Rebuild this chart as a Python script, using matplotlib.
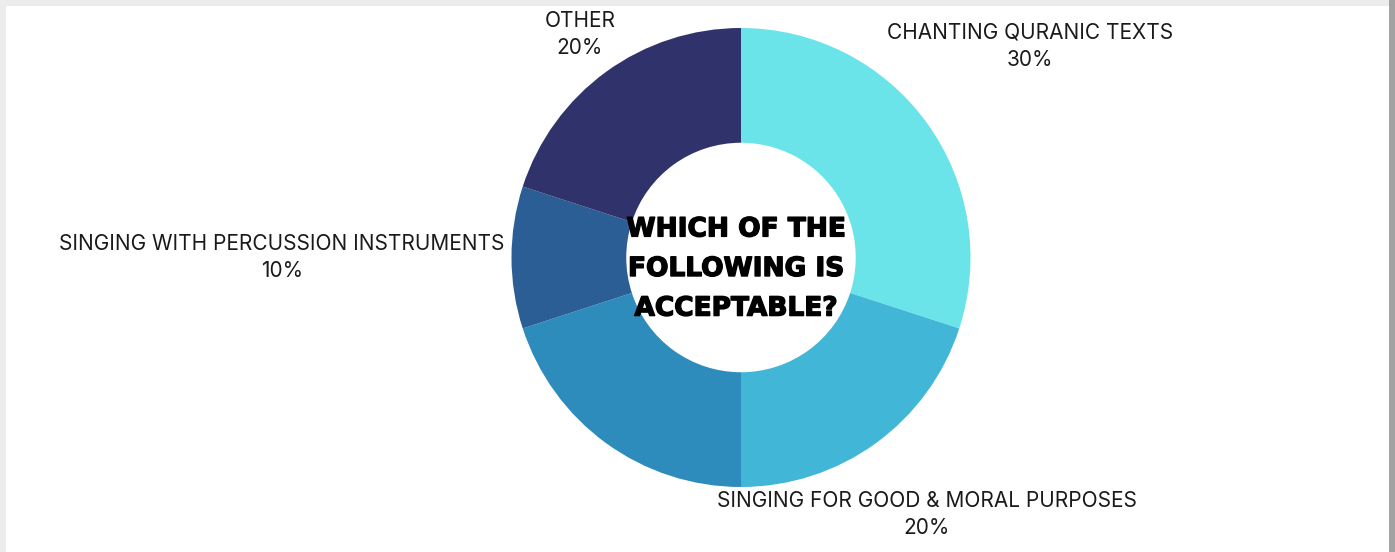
import matplotlib
matplotlib.use('Agg')
import matplotlib.pyplot as plt
import matplotlib.patheffects as pe
from matplotlib.patches import Rectangle

# Survey answers
labels = ['CHANTING QURANIC TEXTS', 'SINGING FOR GOOD & MORAL PURPOSES', '',
          'SINGING WITH PERCUSSION INSTRUMENTS', 'OTHER']
shares = [30, 20, 20, 10, 20]
colors = ['#6AE4E9', '#42B6D6', '#2E8CBC', '#2C5E96', '#30336B']
title = 'WHICH OF THE\nFOLLOWING IS\nACCEPTABLE?'

W, H = 1395, 552
fig = plt.figure(figsize=(W / 100, H / 100), dpi=100)
fig.patch.set_facecolor('white')

# Frame shadow around the white panel
fig.patches.append(Rectangle((0, 0), 1, 1, transform=fig.transFigure,
                             facecolor='#ECECEC', edgecolor='none', zorder=0))
fig.patches.append(Rectangle((1389 / W, 0), 6 / W, 1, transform=fig.transFigure,
                             facecolor='#A2A2A2', edgecolor='none', zorder=0))
fig.patches.append(Rectangle((6 / W, 0), 1383 / W, 546 / H, transform=fig.transFigure,
                             facecolor='white', edgecolor='none', zorder=1))

ax = fig.add_axes([0, 0, 1, 1])
ax.set_zorder(5)
ax.patch.set_alpha(0)

cx, cy, r = 741, H - 257.5, 229.5
ax.pie(shares, colors=colors, startangle=90, counterclock=False,
       center=(cx, cy), radius=r, frame=True,
       wedgeprops=dict(width=r * 0.5, edgecolor='none'))
ax.set_xlim(0, W)
ax.set_ylim(0, H)
ax.set_aspect('equal')
ax.axis('off')

font = ['Inter', 'DejaVu Sans']
# label positions (centre x, first line y in image rows)
label_pos = [(1030, 32), (927, 500), None, (282, 243), (580, 20)]
for lab, val, pos in zip(labels, shares, label_pos):
    if pos is None:
        continue
    x, y = pos
    ax.text(x, H - y - 1, lab, ha='center', va='center', fontsize=15,
            family=font, color='#1a1a1a')
    ax.text(x, H - y - 28, f'{val}%', ha='center', va='center', fontsize=15,
            family=font, color='#1a1a1a')

ax.text(736, H - 269, title, ha='center', va='center', fontsize=19,
        family=['DejaVu Sans'], fontweight='bold',
        linespacing=1.68, color='black',
        path_effects=[pe.withStroke(linewidth=1.0, foreground='black')])

fig.savefig('out.png', dpi=100, facecolor=fig.get_facecolor())
